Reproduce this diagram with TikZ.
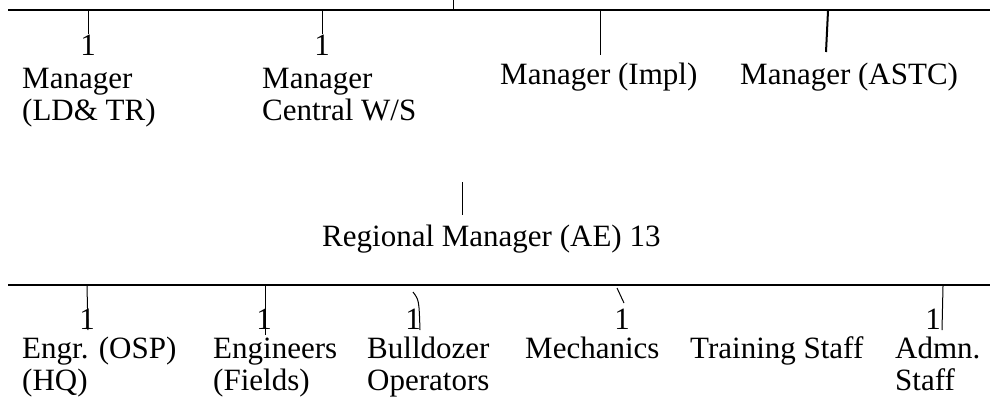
\documentclass[tikz,border=0pt]{standalone}
\usepackage{fontspec}
\setmainfont{Liberation Serif}
\begin{document}
\begin{tikzpicture}[x=1pt,y=-1pt,
  lbl/.style={inner sep=0pt, anchor=base west, font=\fontsize{31}{32}\selectfont},
  one/.style={inner sep=0pt, anchor=base, font=\fontsize{31}{32}\selectfont},
  bar/.style={line width=1.8pt},
  tick/.style={line width=1pt},
  tickb/.style={line width=2pt}]
\useasboundingbox (0,0) rectangle (990,400);
% top bar
\coordinate (topL) at (8,10);
\coordinate (topR) at (990,10);
\coordinate (up) at (453,0);
\coordinate (upb) at (453,10);
\draw[bar] (topL) -- (topR);
\draw[tick] (up) -- (upb);
% top row
\node[lbl] (m1) at (22,88) {\begin{tabular}[t]{@{}l@{}}Manager\\(LD\& TR)\end{tabular}};
\node[one] (n1) at (88,55) {1};
\coordinate (t1) at (88,11);
\draw[tick] (t1) -- (n1.north);
\node[lbl] (m2) at (262,88) {\begin{tabular}[t]{@{}l@{}}Manager\\Central W/S\end{tabular}};
\node[one] (n2) at (322,55) {1};
\coordinate (t2) at (322,11);
\draw[tick] (t2) -- (n2.north);
\node[lbl] (m3) at (500,84) {Manager (Impl)};
\coordinate (t3) at (600,11);
\coordinate (e3) at (600,55);
\draw[tick] (t3) -- (e3);
\node[lbl] (m4) at (740,84) {Manager (ASTC)};
\coordinate (t4) at (828,11);
\coordinate (e4) at (826,52);
\draw[tickb] (t4) -- (e4);
% regional
\coordinate (rt) at (462,182);
\coordinate (rb) at (462,215);
\draw[tick] (rt) -- (rb);
\node[lbl] (rm) at (322,246) {Regional Manager (AE) 13};
% bottom bar
\coordinate (botL) at (8,285);
\coordinate (botR) at (990,285);
\draw[bar] (botL) -- (botR);
% bottom row
\node[one] (b1) at (87,329) {1};
\coordinate (s1) at (87,286);
\coordinate (f1) at (88,330);
\draw[tick] (s1) -- (f1);
\node[lbl] (e1) at (22,358) {\begin{tabular}[t]{@{}l@{}}Engr. (OSP)\\(HQ)\end{tabular}};
\node[one] (b2) at (264,329) {1};
\coordinate (s2) at (265,286);
\coordinate (f2) at (265,335);
\draw[tick] (s2) -- (f2);
\node[lbl] (e2) at (213,358) {\begin{tabular}[t]{@{}l@{}}Engineers\\(Fields)\end{tabular}};
\node[one] (b3) at (413,329) {1};
\coordinate (s3) at (413,292);
\coordinate (f3) at (420,330);
\draw[tick] (s3) .. controls (419,300) .. (f3);
\node[lbl] (e3b) at (367,358) {\begin{tabular}[t]{@{}l@{}}Bulldozer\\Operators\end{tabular}};
\node[one] (b4) at (622,329) {1};
\coordinate (s4) at (617,288);
\coordinate (f4) at (624,303);
\draw[tick] (s4) -- (f4);
\node[lbl] (e4b) at (525,358) {Mechanics};
\node[lbl] (e5) at (690,358) {Training Staff};
\node[one] (b6) at (933,329) {1};
\coordinate (s6) at (943,286);
\coordinate (f6) at (942,330);
\draw[tick] (s6) -- (f6);
\node[lbl] (e6) at (895,358) {\begin{tabular}[t]{@{}l@{}}Admn.\\Staff\end{tabular}};
\end{tikzpicture}
\end{document}
